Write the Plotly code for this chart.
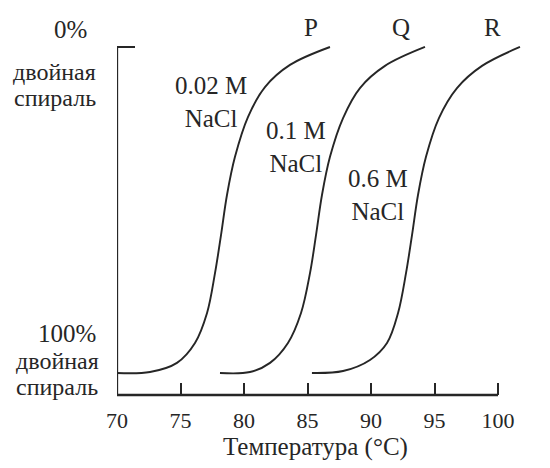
import plotly.graph_objects as go

# Temperature (°C) and fraction denatured (0 = 100% double helix, 1 = 0% double helix)
p_temp = [70.0, 72.6, 74.72, 76.14, 77.09, 77.72, 78.19, 78.66, 79.29, 80.31, 81.65, 83.62, 86.77]
p_frac = [0.0, 0.003, 0.031, 0.092, 0.184, 0.307, 0.423, 0.546, 0.663, 0.785, 0.877, 0.945, 1.0]

q_temp = [78.11, 80.47, 82.05, 83.46, 84.49, 85.2, 85.67, 86.14, 86.77, 87.8, 89.13, 91.1, 94.25]
q_frac = [0.0, 0.003, 0.031, 0.092, 0.184, 0.307, 0.423, 0.546, 0.663, 0.782, 0.874, 0.942, 1.0]

r_temp = [85.35, 87.8, 89.92, 91.26, 92.13, 92.76, 93.23, 93.7, 94.33, 95.35, 96.77, 98.74, 101.73]
r_frac = [0.0, 0.006, 0.04, 0.092, 0.184, 0.307, 0.423, 0.546, 0.663, 0.782, 0.874, 0.942, 1.0]

x_ticks = [70, 75, 80, 85, 90, 95, 100]
x_ticktext = ["70", "75", "80", "85", "90", "95", "100"]

curve_names = ["P", "Q", "R"]
salt_labels = ["0.02 M<br>NaCl", "0.1 M<br>NaCl", "0.6 M<br>NaCl"]

W, H = 550, 468
L, R, T, B = 117, 20, 40, 73
pw, ph = W - L - R, H - T - B
X_RANGE = [70, 70 + pw / 12.7]
Y_RANGE = [-0.0675, -0.0675 + ph / 326.0]

INK = "#262626"
FONT = "Liberation Serif"


def px(x, y):
    return (x - L) / pw, (H - B - y) / ph


fig = go.Figure()
for t, f, n in zip([p_temp, q_temp, r_temp], [p_frac, q_frac, r_frac], curve_names):
    fig.add_trace(go.Scatter(x=t, y=f, mode="lines", name=n,
                             line=dict(color=INK, width=1.9, shape="spline", smoothing=1.0),
                             showlegend=False, hoverinfo="skip"))

# axis lines
fig.add_shape(type="line", xref="x", yref="paper", x0=X_RANGE[0], x1=x_ticks[-1], y0=0, y1=0,
              line=dict(color=INK, width=2.3))
fig.add_shape(type="line", xref="x", yref="y", x0=X_RANGE[0], x1=X_RANGE[0], y0=Y_RANGE[0], y1=1.0,
              line=dict(color=INK, width=2.3))

annots = []


def add_text(text, x, y, size=22):
    xp, yp = px(x, y)
    annots.append(dict(text=text, x=xp, y=yp, xref="paper", yref="paper", showarrow=False,
                       xanchor="center", yanchor="middle", align="center",
                       font=dict(size=size, color=INK, family=FONT)))


add_text("0%", 70, 29, 25)
add_text("двойная", 55, 72, 24)
add_text("спираль", 55, 98, 24)
add_text("100%", 67, 333, 25)
add_text("двойная", 57, 361, 24)
add_text("спираль", 57, 387, 24)

for name, cx in zip(curve_names, [311, 401, 492]):
    add_text(name, cx, 27, 25)

for lab, (cx, cy) in zip(salt_labels, [(211, 102), (296, 147), (378, 195)]):
    add_text(lab, cx, cy, 25)

add_text("Температура (°C)", 315, 447, 25)

fig.update_layout(
    width=W, height=H, margin=dict(l=L, r=R, t=T, b=B),
    paper_bgcolor="white", plot_bgcolor="white",
    annotations=annots,
    xaxis=dict(range=X_RANGE, showline=False, showgrid=False, zeroline=False,
               tickmode="array", tickvals=x_ticks, ticktext=x_ticktext,
               ticks="inside", ticklen=12, tickwidth=2, tickcolor=INK,
               tickfont=dict(size=22, color=INK, family=FONT), ticklabelstandoff=10),
    yaxis=dict(range=Y_RANGE, showline=False, showgrid=False, zeroline=False,
               tickmode="array", tickvals=[1.0], showticklabels=False,
               ticks="inside", ticklen=18, tickwidth=2, tickcolor=INK),
)

fig.write_html("out.html")
